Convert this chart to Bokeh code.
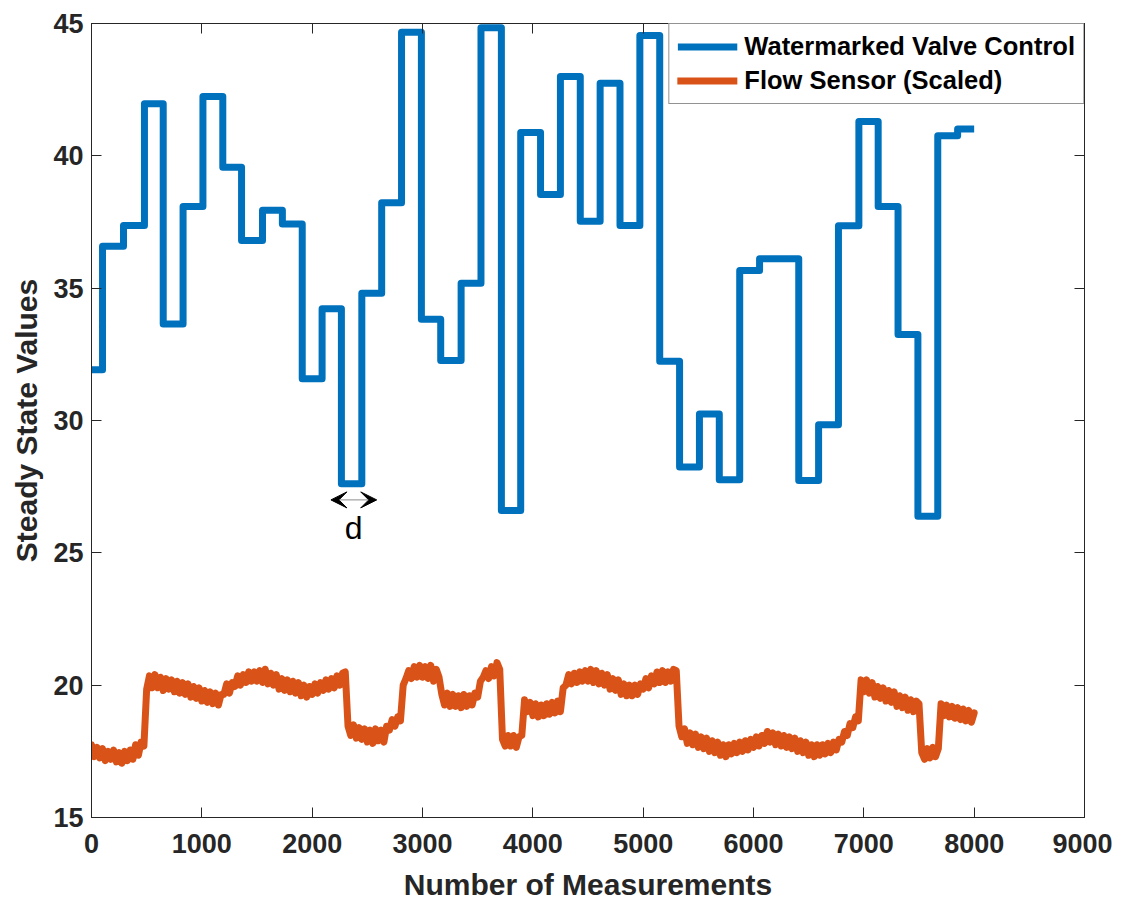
from bokeh.plotting import figure
from bokeh.models import (LinearAxis, Range1d, FixedTicker, Legend, LegendItem,
                          Arrow, VeeHead, Label)
from bokeh.embed import file_html
from bokeh.resources import INLINE

# ---------------- data ----------------
valve_starts = [0, 100, 290, 480, 650, 830, 1010, 1190, 1360, 1550,
                1730, 1910, 2090, 2265, 2450, 2630, 2810, 2990, 3165, 3350,
                3530, 3715, 3890, 4070, 4250, 4430, 4610, 4790, 4970, 5150,
                5330, 5510, 5690, 5875, 6055, 6410, 6590, 6770, 6955, 7130,
                7310, 7490, 7670, 7850]
valve_values = [31.92, 36.58, 37.37, 41.97, 33.65, 38.09, 42.24, 39.57, 36.8, 37.94,
                37.42, 31.58, 34.22, 27.61, 34.81, 38.23, 44.67, 33.83, 32.27, 35.19,
                44.84, 26.6, 40.88, 38.54, 43.0, 37.53, 42.74, 37.37, 44.55, 32.24,
                28.24, 30.25, 27.76, 35.67, 36.11, 27.73, 29.84, 37.36, 41.30, 38.09,
                33.25, 26.38, 40.76, 41.01]
valve_end = 8000

flow_x = list(range(0, 8001, 25))
flow_y = [
    17.75, 17.3, 17.65, 17.25,   17.6, 17.15, 17.5, 17.2,     # 0-175
    17.55, 17.1, 17.45, 17.05,   17.5, 17.15, 17.55, 17.2,    # 200-375
    17.75, 17.35, 17.85, 17.7,   19.85, 20.35, 19.9, 20.4,    # 400-575
    19.9, 20.3, 19.8, 20.25,     19.85, 20.2, 19.75, 20.15,   # 600-775
    19.7, 20.1, 19.65, 20.05,    19.55, 19.95, 19.5, 19.9,    # 800-975
    19.4, 19.8, 19.35, 19.75,    19.3, 19.7, 19.25, 19.65,    # 1000-1175
    19.65, 20.05, 19.7, 20.1,    19.95, 20.35, 20.0, 20.4,    # 1200-1375
    20.1, 20.5, 20.15, 20.5,     20.15, 20.55, 20.1, 20.6,    # 1400-1575
    20.05, 20.45, 20.0, 20.4,    19.85, 20.25, 19.8, 20.2,    # 1600-1775
    19.75, 20.15, 19.7, 20.1,    19.6, 20.0, 19.55, 19.95,    # 1800-1975
    19.65, 20.05, 19.7, 20.1,    19.8, 20.2, 19.85, 20.25,    # 2000-2175
    19.9, 20.35, 20.0, 20.45,    20.5, 18.45, 18.1, 18.5,     # 2200-2375
    18.0, 18.4, 17.95, 18.35,    17.85, 18.3, 17.8, 18.35,    # 2400-2575
    17.9, 18.3, 17.85, 18.45,    18.3, 18.7, 18.45, 18.8,     # 2600-2775
    18.65, 20.0, 20.25, 20.55,   20.25, 20.7, 20.3, 20.75,    # 2800-2975
    20.3, 20.7, 20.25, 20.75,    20.15, 20.6, 20.3, 19.65,    # 3000-3175
    19.25, 19.7, 19.2, 19.65,    19.2, 19.6, 19.15, 19.65,    # 3200-3375
    19.2, 19.6, 19.25, 19.7,     19.55, 20.15, 20.3, 20.55,   # 3400-3575
    20.25, 20.7, 20.35, 20.85,   20.6, 17.95, 17.7, 18.1,     # 3600-3775
    17.7, 18.1, 17.65, 18.05,    18.1, 19.45, 19.0, 19.35,    # 3800-3975
    18.85, 19.3, 18.8, 19.25,    18.85, 19.3, 18.9, 19.35,    # 4000-4175
    18.95, 19.4, 19.0, 19.9,     20.0, 20.4, 20.05, 20.45,    # 4200-4375
    20.1, 20.5, 20.15, 20.55,    20.15, 20.6, 20.1, 20.55,    # 4400-4575
    20.05, 20.45, 20.0, 20.4,    19.85, 20.25, 19.8, 20.2,    # 4600-4775
    19.65, 20.05, 19.6, 20.0,    19.6, 20.0, 19.65, 20.05,    # 4800-4975
    19.85, 20.25, 19.9, 20.35,   20.05, 20.5, 20.1, 20.55,    # 5000-5175
    20.1, 20.5, 20.15, 20.6,     20.55, 18.45, 18.05, 18.35,  # 5200-5375
    17.8, 18.2, 17.75, 18.15,    17.65, 18.05, 17.6, 18.0,    # 5400-5575
    17.5, 17.9, 17.45, 17.85,    17.35, 17.75, 17.3, 17.75,   # 5600-5775
    17.4, 17.8, 17.45, 17.85,    17.5, 17.9, 17.55, 17.95,    # 5800-5975
    17.65, 18.05, 17.7, 18.1,    17.8, 18.25, 17.85, 18.2,    # 6000-6175
    17.75, 18.15, 17.7, 18.1,    17.65, 18.05, 17.6, 18.0,    # 6200-6375
    17.5, 17.9, 17.45, 17.85,    17.35, 17.75, 17.3, 17.75,   # 6400-6575
    17.35, 17.75, 17.4, 17.8,    17.45, 17.85, 17.55, 17.95,  # 6600-6775
    17.85, 18.25, 18.1, 18.55,   18.4, 18.8, 18.65, 20.2,     # 6800-6975
    19.75, 20.2, 19.7, 20.1,     19.55, 19.95, 19.5, 19.9,    # 7000-7175
    19.4, 19.8, 19.35, 19.75,    19.2, 19.6, 19.15, 19.55,    # 7200-7375
    19.05, 19.45, 19.0, 19.4,    19.3, 17.45, 17.2, 17.6,     # 7400-7575
    17.25, 17.65, 17.3, 17.6,    19.3, 18.85, 19.25, 18.8,    # 7600-7775
    19.2, 18.75, 19.15, 18.7,    19.1, 18.65, 19.05, 18.6,    # 7800-7975
    18.95,                                                    # 8000
]

x_ticks = [0, 1000, 2000, 3000, 4000, 5000, 6000, 7000, 8000, 9000]
y_ticks = [15, 20, 25, 30, 35, 40, 45]

series_names = ["Watermarked Valve Control", "Flow Sensor (Scaled)"]
series_colors = ["#0072BD", "#D95319"]

# annotation "d" (one step duration)
d_arrow_x0, d_arrow_x1, d_arrow_y = 2170, 2585, 27.0
d_label_x, d_label_y = 2375, 25.95

FONT = "Liberation Sans"
AX_COLOR = "#262626"

# ---------------- figure ----------------
p = figure(frame_width=993, frame_height=794,
           x_range=Range1d(0, 9000), y_range=Range1d(15, 45),
           output_backend="svg", toolbar_location=None,
           min_border_left=91, min_border_right=28,
           min_border_top=23, min_border_bottom=83)
p.background_fill_color = "white"
p.border_fill_color = "white"
p.outline_line_color = AX_COLOR
p.outline_line_width = 1
p.xgrid.visible = False
p.ygrid.visible = False

sx = list(valve_starts) + [valve_end]
sy = list(valve_values) + [valve_values[-1]]
r1 = p.step(sx, sy, mode="after", line_color=series_colors[0], line_width=7,
            line_join="round", line_cap="butt")
r2 = p.line(flow_x, flow_y, line_color=series_colors[1], line_width=7,
            line_join="round", line_cap="round")


def style_axis(ax, show_labels):
    ax.axis_line_color = AX_COLOR
    ax.major_tick_line_color = AX_COLOR
    ax.major_tick_in = 10
    ax.major_tick_out = 0
    ax.minor_tick_line_color = None
    ax.major_label_text_font = FONT
    ax.major_label_text_font_style = "bold"
    ax.major_label_text_color = AX_COLOR if show_labels else None
    ax.major_label_text_font_size = "27px" if show_labels else "0px"
    ax.axis_label_text_font = FONT
    ax.axis_label_text_font_style = "bold"
    ax.axis_label_text_font_size = "30px"
    ax.axis_label_text_color = AX_COLOR


xa = p.xaxis[0]
ya = p.yaxis[0]
xa.ticker = FixedTicker(ticks=x_ticks)
ya.ticker = FixedTicker(ticks=y_ticks)
style_axis(xa, True)
style_axis(ya, True)
xa.axis_label = "Number of Measurements"
ya.axis_label = "Steady State Values"
xa.major_label_standoff = 16
ya.major_label_standoff = 8
xa.axis_label_standoff = 12
ya.axis_label_standoff = 7

xt = LinearAxis(ticker=FixedTicker(ticks=x_ticks))
yr = LinearAxis(ticker=FixedTicker(ticks=y_ticks))
style_axis(xt, False)
style_axis(yr, False)
xt.major_label_standoff = 0
yr.major_label_standoff = 0
p.add_layout(xt, "above")
p.add_layout(yr, "right")

legend = Legend(items=[LegendItem(label=series_names[0], renderers=[r1]),
                       LegendItem(label=series_names[1], renderers=[r2])],
                location="top_right", margin=0, padding=8, spacing=5,
                glyph_width=60, glyph_height=25, label_height=25,
                label_standoff=7,
                label_text_font=FONT, label_text_font_style="bold",
                label_text_font_size="25.5px", label_text_color="black",
                border_line_color=AX_COLOR, border_line_width=1,
                background_fill_color="white", background_fill_alpha=1)
p.add_layout(legend)

p.add_layout(Arrow(x_start=d_arrow_x0, x_end=d_arrow_x1, y_start=d_arrow_y, y_end=d_arrow_y,
                   line_color="#8c8c8c", line_width=1,
                   start=VeeHead(size=16, fill_color="black", line_color="black"),
                   end=VeeHead(size=16, fill_color="black", line_color="black")))
p.add_layout(Label(x=d_label_x, y=d_label_y, text="d", text_font=FONT,
                   text_font_size="32px", text_color="black",
                   text_align="center", text_baseline="middle"))

open("out.html", "w").write(file_html(p, INLINE))
